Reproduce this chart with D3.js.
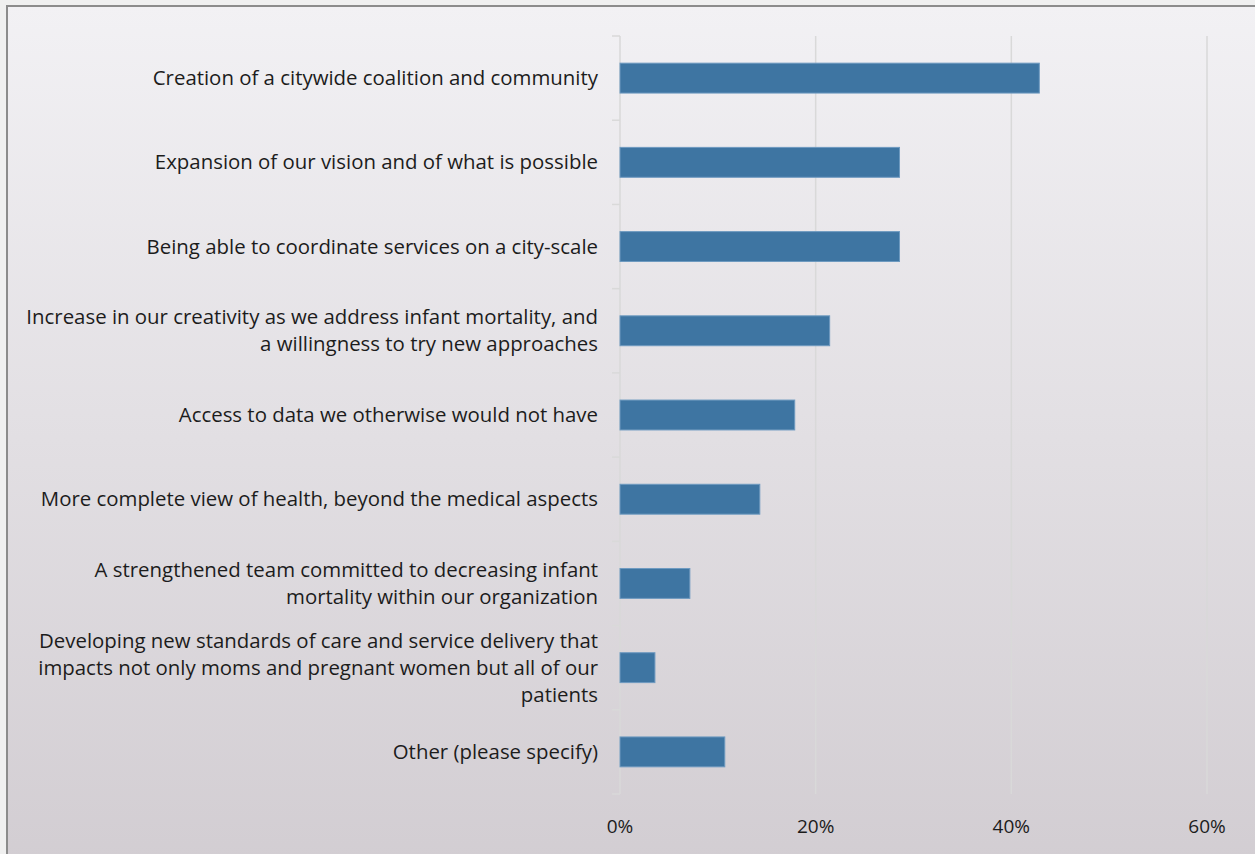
<!DOCTYPE html>
<html>
<head>
<meta charset="utf-8">
<script src="https://cdn.jsdelivr.net/npm/d3@7"></script>
<style>
  html, body { margin: 0; padding: 0; background: #f0f0f0; }
  svg { display: block; }
  text { font-family: "Open Sans", "Noto Sans", sans-serif; fill: #1c1c1c; }
</style>
</head>
<body>
<svg id="chart" width="1255" height="854"></svg>
<script>
// Survey responses: share of respondents (n = 28) selecting each benefit
const categories = [
  "Creation of a citywide coalition and community",
  "Expansion of our vision and of what is possible",
  "Being able to coordinate services on a city-scale",
  "Increase in our creativity as we address infant mortality, and|a willingness to try new approaches",
  "Access to data we otherwise would not have",
  "More complete view of health, beyond the medical aspects",
  "A strengthened team committed to decreasing infant|mortality within our organization",
  "Developing new standards of care and service delivery that|impacts not only moms and pregnant women but all of our|patients",
  "Other (please specify)"
];
const values = [42.86, 28.57, 28.57, 21.43, 17.86, 14.29, 7.14, 3.57, 10.71];
const xTicks = [0, 20, 40, 60];
const xTickLabels = ["0%", "20%", "40%", "60%"];

const svg = d3.select("#chart");
const W = 1255, H = 854;

// background panel with vertical gradient
const defs = svg.append("defs");
const grad = defs.append("linearGradient").attr("id", "bg").attr("x1", 0).attr("y1", 0).attr("x2", 0).attr("y2", 1);
grad.append("stop").attr("offset", "0%").attr("stop-color", "#f2f1f4");
grad.append("stop").attr("offset", "100%").attr("stop-color", "#d2cdd2");

svg.append("rect").attr("x", 7).attr("y", 6).attr("width", W + 10).attr("height", H + 10)
  .attr("fill", "url(#bg)").attr("stroke", "#8c8c8c").attr("stroke-width", 2);

const plot = { left: 620, right: 1207, top: 36, bottom: 794 };

const x = d3.scaleLinear().domain([0, 60]).range([plot.left, plot.right]);
const y = d3.scaleBand().domain(categories).range([plot.top, plot.bottom]).paddingInner(0.645).paddingOuter(0.3225);
const band = d3.scaleBand().domain(categories).range([plot.top, plot.bottom]).padding(0);

// vertical gridlines
svg.append("g").selectAll("line").data(xTicks.slice(1)).join("line")
  .attr("x1", d => x(d)).attr("x2", d => x(d))
  .attr("y1", plot.top).attr("y2", plot.bottom)
  .attr("stroke", "#d9d9d9").attr("stroke-width", 1.5);

// category axis line with tick marks at band boundaries
const axisG = svg.append("g");
axisG.append("line").attr("x1", plot.left).attr("x2", plot.left)
  .attr("y1", plot.top).attr("y2", plot.bottom)
  .attr("stroke", "#d9d9d9").attr("stroke-width", 1.5);
const bounds = categories.map(c => band(c)).concat([plot.bottom]);
axisG.selectAll("line.tick").data(bounds).join("line").attr("class", "tick")
  .attr("x1", plot.left - 8).attr("x2", plot.left)
  .attr("y1", d => d).attr("y2", d => d)
  .attr("stroke", "#d9d9d9").attr("stroke-width", 1.5);

// bars
svg.append("g").selectAll("rect").data(values).join("rect")
  .attr("x", x(0))
  .attr("y", (d, i) => y(categories[i]))
  .attr("width", d => x(d) - x(0))
  .attr("height", y.bandwidth())
  .attr("fill", "#3e75a2")
  .attr("stroke", "#6e9ac0").attr("stroke-width", 1);

// category labels (multi-line, right aligned)
const lineH = 27;
const labels = svg.append("g").selectAll("text").data(categories).join("text")
  .attr("text-anchor", "end")
  .attr("font-size", 20.4)
  .attr("x", plot.left - 22)
  .attr("y", d => band(d) + band.bandwidth() / 2);
labels.each(function (d) {
  const lines = d.split("|");
  const t = d3.select(this);
  const y0 = +t.attr("y") - (lines.length - 1) * lineH / 2;
  lines.forEach((ln, k) => {
    t.append("tspan").attr("x", plot.left - 22).attr("y", y0 + k * lineH)
      .attr("dy", "0.35em").text(ln);
  });
});

// value axis labels
svg.append("g").selectAll("text").data(xTicks).join("text")
  .attr("x", d => x(d)).attr("y", 833)
  .attr("text-anchor", "middle").attr("font-size", 19)
  .text((d, i) => xTickLabels[i]);
</script>
</body>
</html>
